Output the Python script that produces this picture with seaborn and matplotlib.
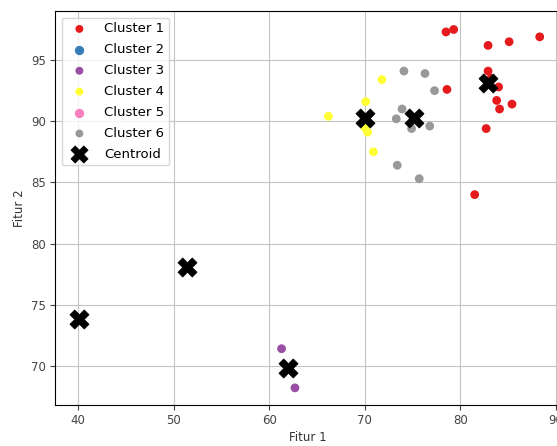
import matplotlib
matplotlib.use("Agg")
import matplotlib.pyplot as plt
import seaborn as sns
import numpy as np
import pandas as pd

cluster_names = ["Cluster 1", "Cluster 2", "Cluster 3", "Cluster 4", "Cluster 5", "Cluster 6"]

c1_x = [78.5, 79.3, 82.9, 85.1, 88.3, 82.9, 78.6, 83.8, 84.1, 85.4, 82.7, 81.5, 83.2, 84.0]
c1_y = [97.3, 97.5, 96.2, 96.5, 96.9, 94.1, 92.6, 91.7, 91.0, 91.4, 89.4, 84.0, 93.5, 92.8]
c2_x = []
c2_y = []
c3_x = [61.3, 62.7]
c3_y = [71.4, 68.2]
c4_x = [71.8, 66.2, 70.1, 70.3, 70.9, 70.0]
c4_y = [93.4, 90.4, 91.6, 89.1, 87.5, 89.5]
c5_x = []
c5_y = []
c6_x = [74.1, 76.3, 77.3, 73.9, 73.3, 74.9, 76.8, 73.4, 75.7]
c6_y = [94.1, 93.9, 92.5, 91.0, 90.2, 89.4, 89.6, 86.4, 85.3]

centroid_x = [82.9, 51.4, 62.0, 70.0, 40.1, 75.2]
centroid_y = [93.1, 78.1, 69.8, 90.3, 73.8, 90.3]

xs = [c1_x, c2_x, c3_x, c4_x, c5_x, c6_x]
ys = [c1_y, c2_y, c3_y, c4_y, c5_y, c6_y]

colors = plt.cm.Set1(np.linspace(0, 1, 6))

fig = plt.figure(figsize=(5.57, 4.46), dpi=100)
ax = fig.add_axes([0.0987, 0.092, 0.9063, 0.883])

for name, x, y, col in zip(cluster_names, xs, ys, colors):
    if len(x):
        sns.scatterplot(x=x, y=y, color=col, s=40, edgecolor="none", label=name, ax=ax, zorder=3)
    else:
        ax.scatter([], [], color=col, s=40, label=name)

sns.scatterplot(x=centroid_x, y=centroid_y, marker="X", color="black", s=190,
                edgecolor="black", linewidth=0.5, label="Centroid", ax=ax, zorder=4)

ax.set_xlim(37.6, 90.4)
ax.set_ylim(66.8, 99.0)
ax.set_xticks([40, 50, 60, 70, 80, 90])
ax.set_yticks([70, 75, 80, 85, 90, 95])
ax.grid(True, color="#c4c4c4", linewidth=0.8)
ax.set_axisbelow(True)
ax.tick_params(labelsize=8.5, colors="#444444", pad=3, length=3.5)
ax.set_xlabel("Fitur 1", fontsize=8.5, labelpad=3, color="#333333")
ax.set_ylabel("Fitur 2", fontsize=8.5, labelpad=4, color="#333333")
leg = ax.legend(loc="upper left", fontsize=9.5, borderpad=0.35, labelspacing=0.6,
                handletextpad=0.9, framealpha=0.8, markerscale=0.9)

fig.savefig("out.png", dpi=100)
